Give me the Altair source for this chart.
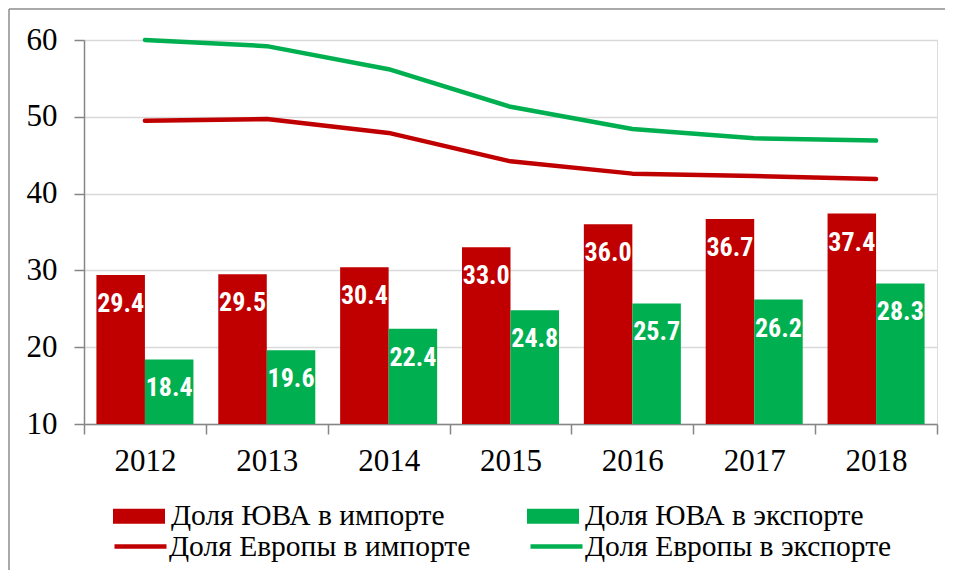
import altair as alt
import pandas as pd

years = ["2012", "2013", "2014", "2015", "2016", "2017", "2018"]
asia_import = [29.4, 29.5, 30.4, 33.0, 36.0, 36.7, 37.4]
asia_export = [18.4, 19.6, 22.4, 24.8, 25.7, 26.2, 28.3]
europe_import = [49.5, 49.7, 47.9, 44.2, 42.6, 42.3, 41.9]
europe_export = [60.0, 59.2, 56.2, 51.3, 48.4, 47.2, 46.9]

bar_series = ["Доля ЮВА в импорте", "Доля ЮВА в экспорте"]
line_series = ["Доля Европы в импорте", "Доля Европы в экспорте"]
y_ticks = [10, 20, 30, 40, 50, 60]

RED = "#C00000"
GREEN = "#00B050"
SERIF = "Liberation Serif"
NARROW = "Liberation Sans Narrow, Roboto Condensed, Arial Narrow, Liberation Sans, sans-serif"

bars_df = pd.DataFrame(
    [{"year": y, "series": bar_series[0], "value": v} for y, v in zip(years, asia_import)]
    + [{"year": y, "series": bar_series[1], "value": v} for y, v in zip(years, asia_export)]
)
lines_df = pd.DataFrame(
    [{"year": y, "series": line_series[0], "value": v} for y, v in zip(years, europe_import)]
    + [{"year": y, "series": line_series[1], "value": v} for y, v in zip(years, europe_export)]
)

x_enc = alt.X(
    "year:N",
    sort=years,
    scale=alt.Scale(paddingInner=0, paddingOuter=0),
    axis=alt.Axis(
        title=None,
        labelAngle=0,
        labelFont=SERIF,
        labelFontSize=31,
        labelColor="black",
        labelPadding=12,
        tickBand="extent",
        tickSize=10,
        tickColor="#868686",
        tickWidth=1.5,
        domainColor="#868686",
        domainWidth=1.5,
        grid=False,
    ),
)
y_enc = alt.Y(
    "value:Q",
    scale=alt.Scale(domain=[10, 60], nice=False, zero=False),
    axis=alt.Axis(
        title=None,
        values=y_ticks,
        labelFont=SERIF,
        labelFontSize=31,
        labelColor="black",
        labelPadding=17,
        tickSize=10,
        tickColor="#868686",
        tickWidth=1.5,
        domainColor="#868686",
        domainWidth=1.5,
        gridColor="#d9d9d9",
        gridWidth=1.5,
    ),
)
xoff = alt.XOffset(
    "series:N", sort=bar_series, scale=alt.Scale(domain=bar_series, paddingOuter=0.256, paddingInner=0)
)

bars = alt.Chart(bars_df).mark_bar().encode(
    x=x_enc,
    xOffset=xoff,
    y=y_enc,
    y2=alt.datum(10),
    color=alt.Color(
        "series:N",
        scale=alt.Scale(domain=bar_series, range=[RED, GREEN]),
        legend=alt.Legend(
            title=None,
            orient="none",
            legendX=29,
            legendY=450,
            direction="horizontal",
            columns=2,
            columnPadding=82,
            padding=0,
            symbolType="M-1,-0.29L1,-0.29L1,0.29L-1,0.29Z",
            symbolSize=2704,
            symbolStrokeWidth=0,
            symbolOpacity=1,
            labelFont=SERIF,
            labelFontSize=29.5,
            labelColor="black",
            labelOffset=6,
            labelLimit=0,
        ),
    ),
)

labels = alt.Chart(bars_df).mark_text(
    dy=29, baseline="middle", align="center", font=NARROW, fontSize=26, fontWeight="bold", color="white"
).encode(
    x=alt.X("year:N", sort=years),
    xOffset=xoff,
    y=alt.Y("value:Q"),
    text=alt.Text("value:Q", format=".1f"),
)

lines = alt.Chart(lines_df).mark_line(strokeWidth=4.5, interpolate="linear", strokeJoin="round", strokeCap="round").encode(
    x=alt.X("year:N", sort=years),
    y=alt.Y("value:Q"),
    stroke=alt.Stroke(
        "series:N",
        scale=alt.Scale(domain=line_series, range=[RED, GREEN]),
        legend=alt.Legend(
            title=None,
            orient="none",
            legendX=28,
            legendY=478,
            direction="horizontal",
            columns=2,
            columnPadding=50,
            padding=0,
            symbolType="stroke",
            symbolSize=2704,
            symbolStrokeWidth=4.5,
            labelFont=SERIF,
            labelFontSize=29.5,
            labelColor="black",
            labelOffset=0,
            labelLimit=0,
        ),
    ),
)

frame_df = pd.DataFrame({"k": [0]})
frame_top = alt.Chart(frame_df).mark_rule(color="#8c8c8c", strokeWidth=1.5).encode(
    x=alt.value(-75), x2=alt.value(1000), y=alt.value(-31)
)
frame_left = alt.Chart(frame_df).mark_rule(color="#8c8c8c", strokeWidth=1.5).encode(
    x=alt.value(-75), y=alt.value(-31), y2=alt.value(600)
)

chart = (
    alt.layer(frame_top, frame_left, bars, labels, lines)
    .resolve_scale(color="independent", stroke="independent")
    .properties(
        width=853,
        height=384,
        autosize=alt.AutoSizeParams(type="none"),
        padding={"left": 76, "top": 32, "right": 8, "bottom": 146},
    )
    .configure_view(stroke=None)
    .configure(background="white")
)

chart.save("out.html", embed_options={"renderer": "svg", "actions": False})
